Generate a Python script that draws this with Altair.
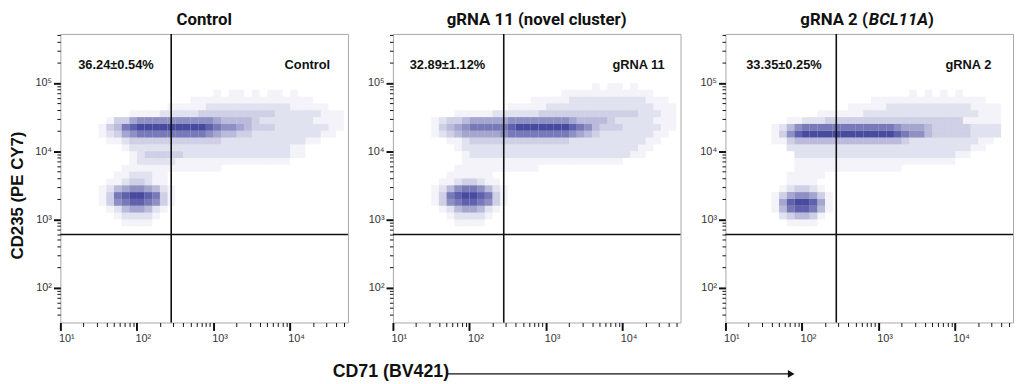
import altair as alt
import pandas as pd

NAVY = "#2E3192"
TITLES = ["Control", "gRNA 11 (novel cluster)"]
TITLE3_PARTS = ["gRNA 2 (", "BCL11A", ")"]
QUAD_PCT = ["36.24±0.54%", "32.89±1.12%", "33.35±0.25%"]
SAMPLE_LABEL = ["Control", "gRNA 11", "gRNA 2"]
GATE_X = 280
GATE_Y = 600
Y_TITLE = "CD235 (PE CY7)"
X_TITLE = "CD71 (BV421)"

# density grids: columns = log10(CD71) bins of 0.1 starting at 1.0,
# rows = log10(CD235) bins of 0.1 going down from 5.0; digit = relative event density (0-9)
DENSITY_CONTROL = [
    "00000000000000000000000000000000000000",
    "00000000000000000000101101011010000000",
    "00000000000000000111111111111111100000",
    "00000000000000111112222222222211111000",
    "00000000011112222233333333332222221110",
    "00000013356666666666544443222222211110",
    "00000134789999999998766543332222222110",
    "00000123567777777776544332222222221100",
    "00000011233333333333322222222222110000",
    "00000000122222222222222222222211000000",
    "00000000012333332222222222222211000000",
    "00000000012222211111111111111100000000",
    "00000000111111111111100000000000000000",
    "00000001122211000000000000000000000000",
    "00000011233211000000000000000000000000",
    "00000124566542100000000000000000000000",
    "00000137899873100000000000000000000000",
    "00000136788763100000000000000000000000",
    "00000012455421000000000000000000000000",
    "00000001222210000000000000000000000000",
    "00000000111100000000000000000000000000",
    "00000000000000000000000000000000000000",
]
DENSITY_GRNA11 = [
    "00000000000000000000000000101101000000",
    "00000000000000000000001111111111110000",
    "00000000000000000011111222222222211100",
    "00000000000000011111222222222222221110",
    "00000000111112222223333333333333222110",
    "00000123345555566666666544443222221110",
    "00000134567777789999999876433322222110",
    "00000123455555677777777654322222221100",
    "00000001123333333333333222222222211000",
    "00000000122222222222222222222222110000",
    "00000000012222222222222222222221100000",
    "00000000011111111111111111111100000000",
    "00000000111111111110000000000000000000",
    "00000001111110000000000000000000000000",
    "00000011233211000000000000000000000000",
    "00000124677642100000000000000000000000",
    "00000137899873100000000000000000000000",
    "00000136788763100000000000000000000000",
    "00000012455421000000000000000000000000",
    "00000001222210000000000000000000000000",
    "00000000111100000000000000000000000000",
    "00000000000000000000000000000000000000",
]
DENSITY_GRNA2 = [
    "00000000000000000000000000000000000000",
    "00000000000000000000000010101010000000",
    "00000000000000000001111111111111110000",
    "00000000000000001111122222222222111100",
    "00000000000011111122222222222222211100",
    "00000000112223333333333333333331111100",
    "00000012467777777777776555433333222200",
    "00000013689999999999998766433333222200",
    "00000011344444444444444322222222211000",
    "00000000222222222222222222222222110000",
    "00000000022222222222222222222211000000",
    "00000000011111111111111111111100000000",
    "00000000011111111111111000000000000000",
    "00000000111110000000000000000000000000",
    "00000000111100000000000000000000000000",
    "00000001233210000000000000000000000000",
    "00000013566531000000000000000000000000",
    "00000015899851000000000000000000000000",
    "00000014788741000000000000000000000000",
    "00000002344310000000000000000000000000",
    "00000000111100000000000000000000000000",
    "00000000000000000000000000000000000000",
]

X_MAJOR = [10, 100, 1000, 10000]
Y_MAJOR = [10, 100, 1000, 10000, 100000]
MULT = [1, 2, 3, 4, 5, 6, 7, 8, 9]
SUPERS = {10: "10¹", 100: "10²", 1000: "10³", 10000: "10⁴", 100000: "10⁵"}

X_DOM = [10, 10 ** 4.755]
Y_DOM = [10 ** 1.488, 10 ** 5.72]
X_TICKS = [m * k for k in X_MAJOR for m in MULT if m * k <= X_DOM[1]]
Y_TICKS = [m * k for k in Y_MAJOR for m in MULT if Y_DOM[0] <= m * k <= Y_DOM[1]]

W, H = 291, 292


def grid_frame(grid):
    rows = []
    for r, s in enumerate(grid):
        for c, ch in enumerate(s):
            v = int(ch)
            if v > 0:
                rows.append({
                    "x": 10 ** (1.0 + 0.1 * c), "x2": 10 ** (1.1 + 0.1 * c),
                    "y": 10 ** (5.0 - 0.1 * (r + 1)), "y2": 10 ** (5.0 - 0.1 * r),
                    "d": v,
                })
    return pd.DataFrame(rows)


def label_expr(majors):
    parts = [f"datum.value == {k} ? '{SUPERS[k]}'" for k in majors]
    return " : ".join(parts) + " : ''"


major_test = "indexof([10,100,1000,10000,100000], datum.value) >= 0"

xscale = alt.Scale(type="log", domain=X_DOM, nice=False)
yscale = alt.Scale(type="log", domain=Y_DOM, nice=False)

xaxis = alt.Axis(
    values=X_TICKS, labelExpr=label_expr(X_MAJOR), title=None,
    tickSize={"condition": {"test": major_test, "value": 8}, "value": 4},
    tickWidth={"condition": {"test": major_test, "value": 2}, "value": 1},
    labelOffset=6, labelPadding=2,
)


def yaxis(title):
    kw = dict(
        values=Y_TICKS, labelExpr=label_expr(Y_MAJOR),
        tickSize={"condition": {"test": major_test, "value": 7}, "value": 3.5},
        tickWidth={"condition": {"test": major_test, "value": 2}, "value": 1},
        labelPadding=2,
    )
    if title:
        kw.update(title=title, titleFont="Liberation Sans", titleFontSize=17,
                  titleFontWeight="bold", titleColor="#111", titlePadding=8, titleY=163)
    else:
        kw.update(title=None)
    return alt.Axis(**kw)


def panel(i, grid):
    df = grid_frame(grid)
    ya = yaxis(Y_TITLE if i == 0 else None)
    heat = alt.Chart(df).mark_rect(color=NAVY, strokeWidth=0).encode(
        x=alt.X("x:Q", scale=xscale, axis=xaxis),
        x2="x2:Q",
        y=alt.Y("y:Q", scale=yscale, axis=ya),
        y2="y2:Q",
        opacity=alt.Opacity("d:Q", scale=alt.Scale(type="pow", exponent=1.2, domain=[1, 9],
                                                    range=[0.06, 0.88]), legend=None),
    )
    vgate = alt.Chart(pd.DataFrame({"g": [GATE_X]})).mark_rule(color="#111", strokeWidth=1.6).encode(
        x=alt.X("g:Q", scale=xscale, axis=xaxis))
    hgate = alt.Chart(pd.DataFrame({"g": [GATE_Y]})).mark_rule(color="#111", strokeWidth=1.6).encode(
        y=alt.Y("g:Q", scale=yscale, axis=ya))
    txt = pd.DataFrame({"t": [QUAD_PCT[i]]})
    pct = alt.Chart(txt).mark_text(align="left", baseline="alphabetic", font="Liberation Sans",
                                   fontSize=13, fontWeight="bold", color="#111").encode(
        x=alt.value([18, 17, 21][i]), y=alt.value(35), text="t:N")
    lab = alt.Chart(pd.DataFrame({"t": [SAMPLE_LABEL[i]]})).mark_text(
        align="right", baseline="alphabetic", font="Liberation Sans", fontSize=13,
        fontWeight="bold", color="#111").encode(
        x=alt.value([273, 275, 269][i]), y=alt.value(35), text="t:N")
    layers = [heat, vgate, hgate, pct, lab]
    tstyle = dict(baseline="alphabetic", font="Roboto", fontSize=17, fontWeight="bold", color="#111")
    if i < 2:
        layers.append(alt.Chart(pd.DataFrame({"t": [TITLES[i]]})).mark_text(align="center", **tstyle).encode(
            x=alt.value(W / 2), y=alt.value(-9), text="t:N"))
    else:
        layers.append(alt.Chart(pd.DataFrame({"t": [TITLE3_PARTS[0]]})).mark_text(align="right", **tstyle).encode(
            x=alt.value(144), y=alt.value(-9), text="t:N"))
        layers.append(alt.Chart(pd.DataFrame({"t": [TITLE3_PARTS[1]]})).mark_text(
            align="left", fontStyle="italic", **tstyle).encode(
            x=alt.value(145), y=alt.value(-9), text="t:N"))
        layers.append(alt.Chart(pd.DataFrame({"t": [TITLE3_PARTS[2]]})).mark_text(align="left", **tstyle).encode(
            x=alt.value(205), y=alt.value(-9), text="t:N"))
    if i == 1:
        layers.append(alt.Chart(pd.DataFrame({"t": [X_TITLE]})).mark_text(
            align="left", baseline="middle", font="Liberation Sans", fontSize=18,
            fontWeight="bold", color="#111").encode(
            x=alt.value(-61), y=alt.value(342), text="t:N"))
        layers.append(alt.Chart(pd.DataFrame({"t": [X_TITLE]})).mark_rule(color="#111", strokeWidth=1.5).encode(
            x=alt.value(55), x2=alt.value(401), y=alt.value(344)))
        layers.append(alt.Chart(pd.DataFrame({"t": [X_TITLE]})).mark_point(
            shape="triangle-right", filled=True, color="#111", size=60, opacity=1).encode(
            x=alt.value(403), y=alt.value(344)))
    return alt.layer(*layers).properties(width=W, height=H)


charts = [panel(0, DENSITY_CONTROL), panel(1, DENSITY_GRNA11), panel(2, DENSITY_GRNA2)]

chart = alt.hconcat(*charts, spacing=45.5, bounds="flush").properties(
    padding={"left": 0, "top": 0, "right": 0, "bottom": 0}
).configure_view(stroke="#a8a8a8", strokeWidth=1).configure_axis(
    labelFont="Liberation Sans", labelFontSize=11, labelColor="#333", tickColor="#111",
    domain=False, grid=False, labelFlush=False, labelOverlap=False,
)

chart.save("out.html", embed_options={"renderer": "svg", "actions": False})
